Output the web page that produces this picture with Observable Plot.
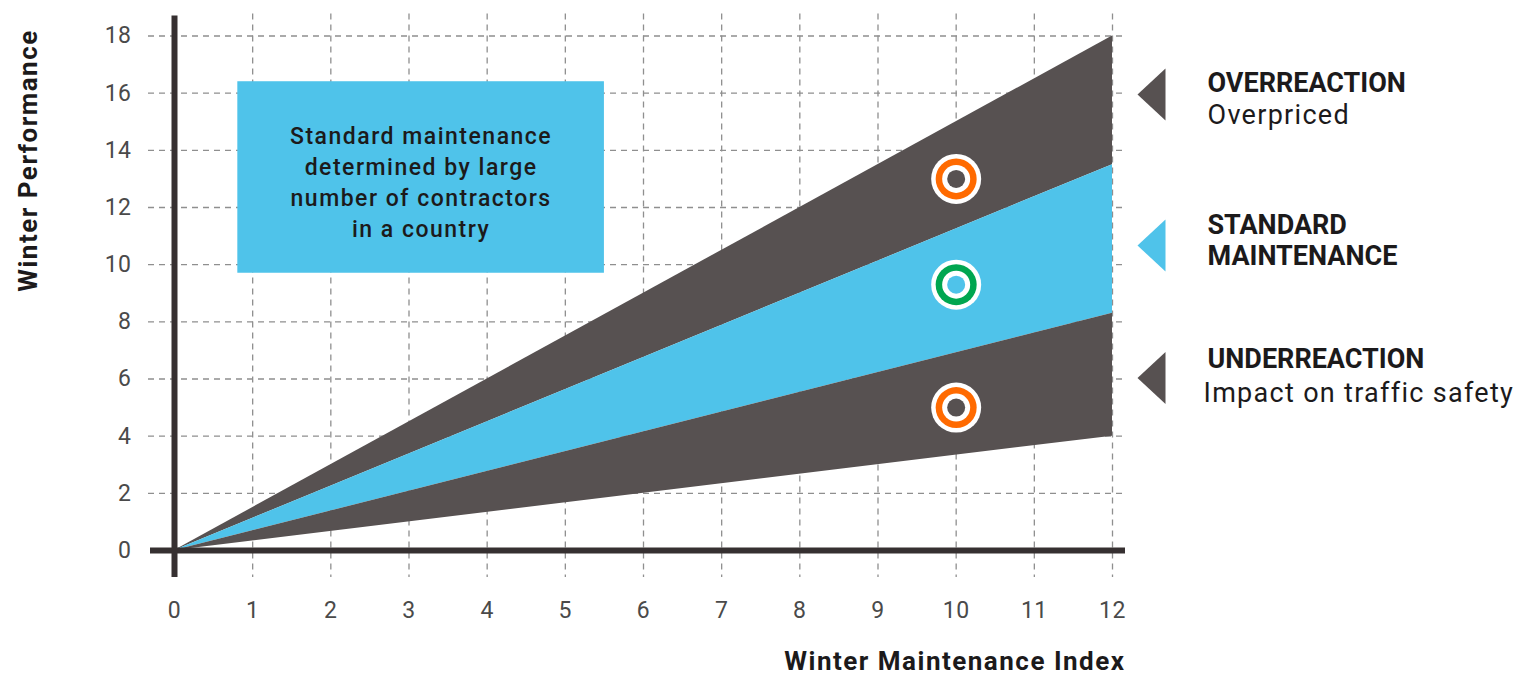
<!DOCTYPE html>
<html>
<head>
<meta charset="utf-8">
<script src="https://cdn.jsdelivr.net/npm/d3@7"></script>
<script src="https://cdn.jsdelivr.net/npm/@observablehq/plot@0.6"></script>
<style>
  html, body { margin: 0; padding: 0; background: #fff; }
  #chart svg { display: block; }
</style>
</head>
<body>
<div id="chart"></div>
<script>
// ---- data ----
const bandX = [0, 12];
const bandTop = [0, 18];
const bandUpperMid = [0, 13.5];
const bandLowerMid = [0, 8.3];
const bandBottom = [0, 4];

const xTicks = [0, 1, 2, 3, 4, 5, 6, 7, 8, 9, 10, 11, 12];
const yTicks = [0, 2, 4, 6, 8, 10, 12, 14, 16, 18];

const pointX = [10, 10, 10];
const pointY = [13, 9.3, 5];
const pointRing = ["#ff6a00", "#00a650", "#ff6a00"];
const pointCore = ["#575151", "#4fc3ea", "#575151"];

const noteX1 = [0.81];
const noteX2 = [5.5];
const noteY1 = [9.7];
const noteY2 = [16.4];
const noteText = ["Standard maintenance\ndetermined by large\nnumber of contractors\nin a country"];

const legendTitles = ["OVERREACTION", "STANDARD", "MAINTENANCE", "UNDERREACTION"];
const legendSubs = ["Overpriced", "Impact on traffic safety"];
const axisTitles = ["Winter Maintenance Index", "Winter Performance"];

const DARK = "#575151";
const BLUE = "#4fc3ea";
const AXIS = "#363031";
const INK = "#1c1a1b";
const FONT = "Roboto, 'DejaVu Sans', sans-serif";

const band = bandX.map((x, i) => ({
  x, top: bandTop[i], um: bandUpperMid[i], lm: bandLowerMid[i], bot: bandBottom[i]
}));
const points = pointX.map((x, i) => ({x, y: pointY[i], ring: pointRing[i], core: pointCore[i]}));
const note = noteX1.map((x1, i) => ({x1, x2: noteX2[i], y1: noteY1[i], y2: noteY2[i], text: noteText[i]}));

const leftTriangle = {
  draw(context) {
    context.moveTo(-14, 0);
    context.lineTo(14, -26);
    context.lineTo(14, 26);
    context.closePath();
  }
};

const titleStyle = {fontFamily: FONT, fontWeight: "bold", fontSize: 27, fill: INK, textAnchor: "start", lineAnchor: "middle", frameAnchor: "top-right"};
const subStyle = {fontFamily: FONT, fontSize: 27, fill: INK, textAnchor: "start", lineAnchor: "middle", frameAnchor: "top-right"};

const chart = Plot.plot({
  width: 1520,
  height: 679,
  marginLeft: 174,
  marginRight: 408,
  marginTop: 35.5,
  marginBottom: 129,
  style: {fontFamily: FONT, background: "#fff"},
  x: {domain: [0, 12]},
  y: {domain: [0, 18]},
  marks: [
    // grid
    Plot.ruleX(xTicks.slice(1), {stroke: "#8f8f8f", strokeWidth: 1.3, strokeDasharray: "6,5", insetTop: -22, insetBottom: -27}),
    Plot.ruleY(yTicks.slice(1), {stroke: "#8f8f8f", strokeWidth: 1.3, strokeDasharray: "6,5", insetLeft: -26, insetRight: -10}),
    // bands
    Plot.areaY(band, {x: "x", y1: "um", y2: "top", fill: DARK}),
    Plot.areaY(band, {x: "x", y1: "lm", y2: "um", fill: BLUE}),
    Plot.areaY(band, {x: "x", y1: "bot", y2: "lm", fill: DARK}),
    // note box
    Plot.rect(note, {x1: "x1", x2: "x2", y1: "y1", y2: "y2", fill: BLUE}),
    Plot.text(note, {x: d => (d.x1 + d.x2) / 2, y: d => (d.y1 + d.y2) / 2, dy: 3, text: "text", fontSize: 23, fontWeight: 500, lineHeight: 1.35, fill: INK, fontFamily: FONT}),
    // axes
    Plot.ruleY([0], {stroke: AXIS, strokeWidth: 6, insetLeft: -24, insetRight: -13}),
    Plot.ruleX([0], {stroke: AXIS, strokeWidth: 6, insetTop: -20, insetBottom: -27}),
    Plot.axisX(xTicks, {tickSize: 0, tickPadding: 51, fontSize: 23, color: "#4a4a4a", label: null, fontFamily: FONT}),
    Plot.axisY(yTicks, {tickSize: 0, tickPadding: 43, fontSize: 23, color: "#4a4a4a", label: null, fontFamily: FONT}),
    // points
    Plot.dot(points, {x: "x", y: "y", r: 25, fill: "#fff"}),
    Plot.dot(points, {x: "x", y: "y", r: 20.5, fill: "ring"}),
    Plot.dot(points, {x: "x", y: "y", r: 14, fill: "#fff"}),
    Plot.dot(points, {x: "x", y: "y", r: 9, fill: "core"}),
    // axis titles
    Plot.text([axisTitles[0]], {frameAnchor: "bottom-right", text: d => d, dx: 13, dy: 111, textAnchor: "end", lineAnchor: "middle", fontSize: 26, fontWeight: "bold", fill: INK, fontFamily: FONT}),
    Plot.text([axisTitles[1]], {frameAnchor: "top-left", text: d => d, dx: -146, dy: 124.5, rotate: -90, textAnchor: "middle", lineAnchor: "middle", fontSize: 26, fontWeight: "bold", fill: INK, fontFamily: FONT}),
    // legend
    Plot.dot([0], {frameAnchor: "top-right", dx: 39, dy: 58.5, symbol: leftTriangle, fill: DARK, r: 10}),
    Plot.dot([0], {frameAnchor: "top-right", dx: 39, dy: 209.5, symbol: leftTriangle, fill: BLUE, r: 10}),
    Plot.dot([0], {frameAnchor: "top-right", dx: 39, dy: 342, symbol: leftTriangle, fill: DARK, r: 10}),
    Plot.text([legendTitles[0]], {...titleStyle, text: d => d, dx: 95, dy: 47.5}),
    Plot.text([legendSubs[0]], {...subStyle, text: d => d, dx: 95, dy: 79}),
    Plot.text([legendTitles[1]], {...titleStyle, text: d => d, dx: 95, dy: 189.5}),
    Plot.text([legendTitles[2]], {...titleStyle, text: d => d, dx: 95, dy: 220.5}),
    Plot.text([legendTitles[3]], {...titleStyle, text: d => d, dx: 95, dy: 323.5}),
    Plot.text([legendSubs[1]], {...subStyle, text: d => d, dx: 91, dy: 357})
  ]
});
// letter spacing tweaks (the reference face is wider than Roboto)
const spacing = new Map([
  ...legendSubs.map(t => [t, 1.3]),
  ...axisTitles.map(t => [t, 1.5])
]);
d3.select(chart).selectAll("text").each(function () {
  const t = this.textContent;
  if (spacing.has(t)) this.setAttribute("letter-spacing", spacing.get(t));
});
d3.select(chart).selectAll("text").filter(function () { return this.querySelector("tspan") && this.textContent.startsWith("Standard"); })
  .attr("letter-spacing", 1.5);
d3.select(chart).selectAll('g[aria-label="x-axis tick label"] text, g[aria-label="y-axis tick label"] text').attr("letter-spacing", 0.5);
document.getElementById("chart").appendChild(chart);
</script>
</body>
</html>
